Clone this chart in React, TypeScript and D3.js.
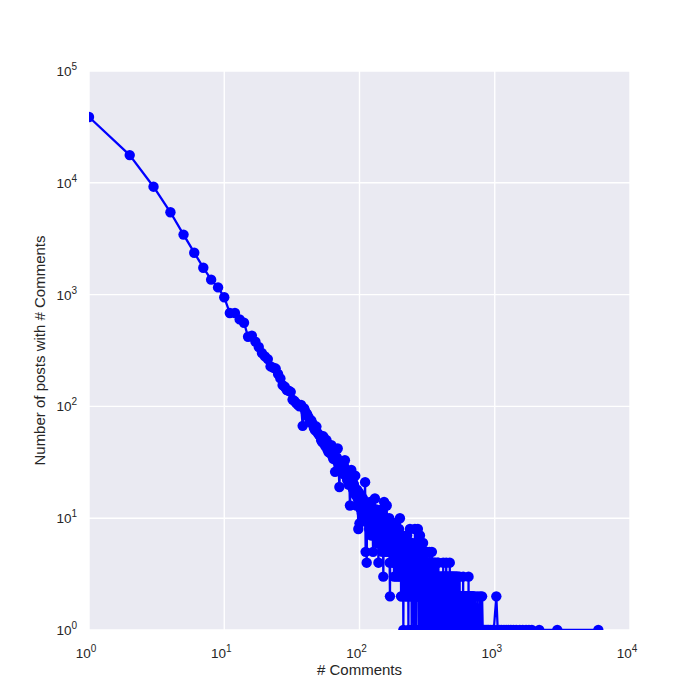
import React from "react";
import * as d3 from "d3";

// number of posts having exactly n comments, n = 1..100
const headPosts = [
  38800, 17700, 9230, 5450, 3440, 2370, 1740, 1360, 1160, 946,
  684, 684, 600, 560, 420, 430, 380, 340, 300, 280,
  265, 228, 222, 218, 195, 178, 155, 150, 140, 138,
  135, 115, 112, 107, 104, 100, 103, 67, 96, 89,
  85, 80, 72, 75, 70, 64, 61, 66, 58, 56,
  55, 50, 48, 54, 46, 44, 50, 41, 39, 45,
  38, 45, 36, 34, 37, 26, 33, 35, 42, 30,
  19, 31, 28, 32, 27, 25, 29, 33, 24, 26,
  22, 25, 20, 23, 13, 21, 27, 19, 22, 18,
  20, 17, 24, 16, 13, 18, 15, 8, 17, 9,
];

// n = 101..200
const bodyPosts = [
  14, 12, 16, 11, 13, 15, 10, 12, 14, 21,
  5, 11, 4, 13, 10, 9, 12, 8, 11, 14,
  9, 10, 7, 12, 9, 5, 11, 8, 10, 15,
  7, 9, 12, 8, 6, 10, 9, 4, 8, 11,
  7, 9, 6, 10, 8, 12, 7, 5, 9, 3,
  8, 14, 6, 9, 7, 5, 8, 10, 13, 6,
  7, 9, 5, 8, 6, 10, 4, 2, 7, 6,
  9, 8, 5, 7, 4, 6, 8, 5, 7, 3,
  6, 9, 4, 7, 5, 6, 3, 8, 5, 6,
  4, 7, 5, 3, 6, 8, 4, 5, 10, 4,
];

// n = 201..700 (0 = no post with that many comments)
const tailPosts = [
  3, 6, 2, 5, 2, 4, 7, 3, 5, 4,
  1, 5, 3, 6, 4, 2, 5, 3, 4, 6,
  2, 4, 5, 3, 7, 2, 4, 3, 5, 1,
  4, 3, 6, 2, 4, 8, 3, 5, 2, 4,
  3, 5, 1, 4, 6, 2, 3, 5, 4, 2,
  4, 3, 1, 5, 2, 4, 8, 3, 2, 4,
  3, 1, 5, 2, 4, 3, 6, 2, 3, 8,
  2, 4, 3, 1, 5, 3, 2, 4, 3, 7,
  4, 2, 6, 3, 1, 4, 2, 5, 3, 2,
  4, 1, 3, 5, 6, 2, 3, 1, 4, 2,
  3, 2, 4, 1, 5, 3, 2, 0, 4, 3,
  2, 1, 3, 4, 2, 5, 1, 3, 2, 4,
  1, 3, 2, 0, 4, 2, 3, 1, 5, 2,
  3, 1, 2, 4, 2, 0, 3, 1, 2, 3,
  1, 4, 5, 2, 1, 3, 0, 2, 4, 1,
  2, 3, 1, 2, 0, 4, 1, 3, 2, 1,
  3, 2, 0, 1, 4, 2, 1, 3, 0, 2,
  1, 3, 2, 1, 0, 2, 4, 1, 2, 3,
  1, 2, 4, 0, 1, 3, 2, 1, 0, 2,
  3, 1, 2, 0, 1, 2, 3, 1, 2, 0,
  2, 1, 3, 2, 1, 2, 1, 3, 2, 1,
  3, 1, 2, 2, 1, 4, 1, 2, 3, 1,
  2, 1, 3, 2, 1, 2, 3, 1, 2, 1,
  2, 3, 1, 2, 1, 2, 3, 4, 1, 2,
  2, 1, 3, 1, 3, 1, 2, 1, 2, 2,
  1, 3, 2, 1, 2, 1, 3, 1, 2, 2,
  1, 2, 1, 2, 4, 1, 3, 1, 2, 1,
  1, 3, 2, 1, 2, 1, 3, 1, 2, 2,
  1, 3, 2, 1, 0, 1, 3, 2, 1, 1,
  2, 2, 1, 3, 1, 2, 0, 1, 3, 2,
  1, 2, 1, 2, 3, 1, 0, 1, 2, 1,
  1, 2, 3, 1, 0, 1, 2, 2, 1, 3,
  1, 0, 1, 2, 2, 3, 1, 1, 0, 1,
  2, 1, 1, 0, 1, 3, 2, 1, 0, 1,
  2, 1, 0, 2, 1, 1, 2, 0, 1, 3,
  1, 1, 0, 1, 2, 1, 1, 0, 2, 1,
  2, 0, 1, 1, 1, 0, 2, 2, 1, 0,
  1, 2, 0, 1, 2, 1, 1, 0, 1, 2,
  0, 1, 2, 3, 1, 0, 1, 1, 0, 2,
  1, 0, 2, 1, 0, 2, 1, 1, 0, 1,
  0, 1, 2, 2, 0, 1, 1, 0, 1, 2,
  2, 0, 1, 1, 0, 1, 2, 2, 0, 1,
  0, 1, 1, 0, 2, 0, 1, 2, 0, 1,
  0, 2, 1, 1, 0, 2, 1, 0, 1, 3,
  0, 1, 0, 1, 2, 0, 1, 0, 2, 1,
  0, 0, 1, 0, 2, 0, 1, 1, 0, 0,
  1, 0, 2, 0, 1, 1, 0, 0, 1, 0,
  0, 2, 0, 1, 0, 1, 0, 1, 0, 2,
  0, 0, 1, 0, 0, 1, 0, 2, 0, 0,
  1, 0, 0, 2, 0, 0, 1, 0, 0, 1,
];

// the long tail past 700 comments
const sparseComments = [
  704, 712, 720, 731, 745, 752, 768, 779, 790, 806, 815, 833, 850, 871, 889,
  905, 930, 958, 984, 1027, 1052, 1090, 1124, 1170, 1215, 1260, 1318, 1375,
  1442, 1530, 1610, 1705, 1790, 1880, 2134, 2900, 5830,
];
const sparsePosts = [
  1, 2, 1, 1, 2, 1, 1, 2, 1, 2, 1, 1, 1, 1, 1,
  1, 1, 1, 1, 2, 1, 1, 1, 1, 1, 1, 1, 1,
  1, 1, 1, 1, 1, 1, 1, 1, 1,
];

const xTicks = [1, 10, 100, 1000, 10000];
const yTicks = [1, 10, 100, 1000, 10000, 100000];

const points: [number, number][] = [];
[headPosts, bodyPosts, tailPosts].reduce((start, arr) => {
  arr.forEach((v, i) => {
    if (v > 0) points.push([start + i, v]);
  });
  return start + arr.length;
}, 1);
sparseComments.forEach((c, i) => points.push([c, sparsePosts[i]]));

const margin = { top: 71, right: 70, bottom: 70, left: 89 };
const W = 700;
const H = 700;
const innerW = W - margin.left - margin.right;
const innerH = H - margin.top - margin.bottom;
const font = "'Liberation Sans', Arial, sans-serif";
const ink = "#262626";

const Power = ({ exp, ...rest }: any) => (
  <text fontFamily={font} fill={ink} {...rest}>
    <tspan fontSize={13.5}>10</tspan>
    <tspan fontSize={10} dy={-6}>
      {exp}
    </tspan>
  </text>
);

const App = () => {
  const x = d3.scaleLog().domain([1, 10000]).range([0, innerW]);
  const y = d3.scaleLog().domain([1, 100000]).range([innerH, 0]);
  const line = d3
    .line<[number, number]>()
    .x((d) => x(d[0]))
    .y((d) => y(d[1]));

  return (
    <div style={{ position: "absolute", left: 0, top: 0 }}>
      <svg width={W} height={H} style={{ display: "block", background: "#fff" }}>
        <defs>
          <clipPath id="plot-clip">
            <rect width={innerW} height={innerH} />
          </clipPath>
        </defs>
        <g transform={`translate(${margin.left},${margin.top})`}>
          <rect width={innerW} height={innerH} fill="#EAEAF2" />
          {xTicks.map((t) => (
            <line key={"gx" + t} x1={x(t)} x2={x(t)} y1={0} y2={innerH} stroke="#fff" strokeWidth={1.4} />
          ))}
          {yTicks.map((t) => (
            <line key={"gy" + t} x1={0} x2={innerW} y1={y(t)} y2={y(t)} stroke="#fff" strokeWidth={1.4} />
          ))}
          <g clipPath="url(#plot-clip)">
            <path d={line(points) || ""} fill="none" stroke="#0000FF" strokeWidth={2.3} strokeLinejoin="round" />
            {points.map((d, i) => (
              <circle key={i} cx={x(d[0])} cy={y(d[1])} r={5.2} fill="#0000FF" />
            ))}
          </g>
          {xTicks.map((t) => (
            <Power
              key={"xt" + t}
              exp={Math.round(Math.log10(t))}
              x={x(t) - 3}
              y={innerH + 28}
              textAnchor="middle"
            />
          ))}
          {yTicks.map((t) => (
            <Power
              key={"yt" + t}
              exp={Math.round(Math.log10(t))}
              x={-12}
              y={y(t) + 5}
              textAnchor="end"
            />
          ))}
          <text
            x={innerW / 2}
            y={innerH + 45}
            textAnchor="middle"
            fontFamily={font}
            fontSize={15}
            fill={ink}
          >
            # Comments
          </text>
          <text
            transform={`translate(${-44},${innerH / 2}) rotate(-90)`}
            textAnchor="middle"
            fontFamily={font}
            fontSize={15}
            fill={ink}
          >
            Number of posts with # Comments
          </text>
        </g>
      </svg>
    </div>
  );
};

export default App;
